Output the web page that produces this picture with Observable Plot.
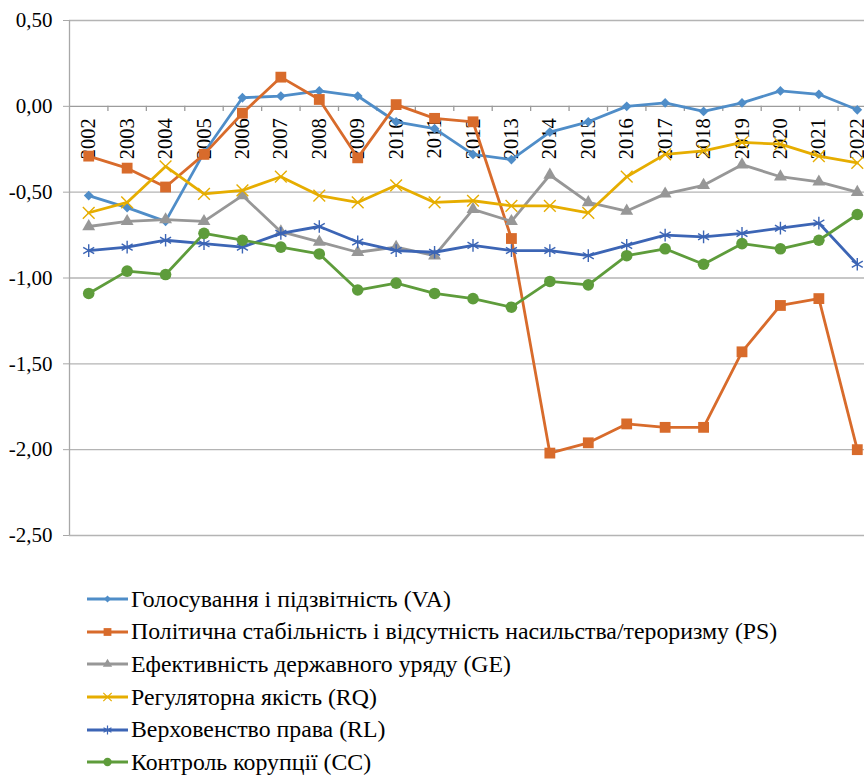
<!DOCTYPE html>
<html>
<head>
<meta charset="utf-8">
<script src="https://cdn.jsdelivr.net/npm/d3@7"></script>
<script src="https://cdn.jsdelivr.net/npm/@observablehq/plot@0.6"></script>
<style>
  html, body { margin: 0; padding: 0; background: #fff; }
  body { width: 864px; height: 783px; overflow: hidden; font-family: "Liberation Serif", serif; }
  #legend { padding-left: 87px; padding-top: 21px; }
  .item { display: flex; align-items: center; height: 32.6px; font-size: 23.8px; color: #000; font-family: "Liberation Serif", serif; white-space: nowrap; }
  .item svg { margin-right: 3px; flex: none; }
</style>
</head>
<body>
<div id="chart"></div>
<div id="legend"></div>
<script>
const years = [2002, 2003, 2004, 2005, 2006, 2007, 2008, 2009, 2010, 2011, 2012, 2013, 2014, 2015, 2016, 2017, 2018, 2019, 2020, 2021, 2022];
const yTicks = [0.5, 0, -0.5, -1, -1.5, -2, -2.5];

const va = [-0.52, -0.59, -0.67, -0.27, 0.05, 0.06, 0.09, 0.06, -0.09, -0.13, -0.28, -0.31, -0.15, -0.09, 0.00, 0.02, -0.03, 0.02, 0.09, 0.07, -0.02];
const ps = [-0.29, -0.36, -0.47, -0.28, -0.04, 0.17, 0.04, -0.30, 0.01, -0.07, -0.09, -0.77, -2.02, -1.96, -1.85, -1.87, -1.87, -1.43, -1.16, -1.12, -2.00];
const ge = [-0.70, -0.67, -0.66, -0.67, -0.52, -0.73, -0.79, -0.85, -0.82, -0.87, -0.60, -0.67, -0.40, -0.56, -0.61, -0.51, -0.46, -0.34, -0.41, -0.44, -0.50];
const rq = [-0.62, -0.56, -0.35, -0.51, -0.49, -0.41, -0.52, -0.56, -0.46, -0.56, -0.55, -0.58, -0.58, -0.62, -0.41, -0.28, -0.26, -0.21, -0.22, -0.29, -0.33];
const rl = [-0.84, -0.82, -0.78, -0.80, -0.82, -0.74, -0.70, -0.79, -0.84, -0.85, -0.81, -0.84, -0.84, -0.87, -0.81, -0.75, -0.76, -0.74, -0.71, -0.68, -0.92];
const cc = [-1.09, -0.96, -0.98, -0.74, -0.78, -0.82, -0.86, -1.07, -1.03, -1.09, -1.12, -1.17, -1.02, -1.04, -0.87, -0.83, -0.92, -0.80, -0.83, -0.78, -0.63];

const seriesNames = [
  "Голосування і підзвітність (VA)",
  "Політична стабільність і відсутність насильства/тероризму (PS)",
  "Ефективність державного уряду (GE)",
  "Регуляторна якість (RQ)",
  "Верховенство права (RL)",
  "Контроль корупції (CC)"
];
const seriesValues = [va, ps, ge, rq, rl, cc];
const seriesColors = ["#4f8dc8", "#d86b2b", "#979797", "#e6ad00", "#3c65b5", "#5e9c3b"];
const seriesSymbols = ["diamond2", "square", "triangle", "times", "asterisk", "circle"];
const symbolFilled = [true, true, true, false, false, true];
const symbolR = [4.4, 6.1, 4.8, 5.4, 6.0, 5.8];

const fmt = v => (v < 0 ? "-" : "") + Math.abs(v).toFixed(2).replace(".", ",");

const rows = [];
seriesNames.forEach((name, i) => {
  years.forEach((yr, j) => rows.push({key: i, name, year: yr, value: seriesValues[i][j]}));
});

const font = "'Liberation Serif', serif";
const H = 562;
const marks = [
  Plot.ruleY(yTicks.filter(v => v !== 0), {y: d => d, stroke: "#b4b4b4", strokeWidth: 1.3}),
  Plot.ruleY([0], {stroke: "#9c9c9c", strokeWidth: 1.3}),
  Plot.ruleX([years[0] - 0.5], {y1: d3.min(yTicks), y2: d3.max(yTicks), stroke: "#a8a8a8", strokeWidth: 1.3}),
  Plot.ruleX(years.map(y => y + 0.5), {x: d => d, y1: 0, y2: -0.03, stroke: "#9c9c9c", strokeWidth: 1.3}),
  Plot.axisY({ticks: yTicks, tickFormat: fmt, tickSize: 6, tickPadding: 11, fontSize: 21, fontFamily: font, stroke: "#a8a8a8", fill: "#000", label: null}),
  Plot.text(years, {x: d => d, y: 0, text: d => String(d), rotate: -90, textAnchor: "end", dy: 12, fontSize: 20.5, fontFamily: font, fill: "#000"})
];
seriesNames.forEach((name, i) => {
  const data = rows.filter(r => r.key === i);
  marks.push(Plot.line(data, {x: "year", y: "value", stroke: seriesColors[i], strokeWidth: 2.8, strokeLinejoin: "round", strokeLinecap: "round"}));
  if (symbolFilled[i]) {
    marks.push(Plot.dot(data, {x: "year", y: "value", symbol: seriesSymbols[i], r: symbolR[i], fill: seriesColors[i], stroke: "none"}));
  } else {
    marks.push(Plot.dot(data, {x: "year", y: "value", symbol: seriesSymbols[i], r: symbolR[i], fill: "none", stroke: seriesColors[i], strokeWidth: 1.4}));
  }
});

const chart = Plot.plot({
  width: 864,
  height: H,
  marginLeft: 69,
  marginRight: 0,
  marginTop: 20,
  marginBottom: H - 535,
  style: {fontFamily: font, background: "#fff", overflow: "hidden"},
  x: {type: "linear", domain: [years[0] - 0.5, years[years.length - 1] + 0.5], range: [69, 876], axis: null},
  y: {domain: [d3.min(yTicks), d3.max(yTicks)], axis: null},
  marks
});
document.getElementById("chart").appendChild(chart);

// Legend
const legend = d3.select("#legend");
seriesNames.forEach((name, i) => {
  const item = legend.append("div").attr("class", "item");
  const svg = item.append("svg").attr("width", 41).attr("height", 14);
  svg.append("line").attr("x1", 0).attr("x2", 41).attr("y1", 7).attr("y2", 7)
    .attr("stroke", seriesColors[i]).attr("stroke-width", 2.8);
  const symMap = {diamond2: d3.symbolDiamond2, square: d3.symbolSquare, triangle: d3.symbolTriangle, times: d3.symbolTimes, asterisk: d3.symbolAsterisk, circle: d3.symbolCircle};
  const r = symbolR[i] * 0.72;
  const p = svg.append("path").attr("transform", "translate(20.5,7)")
    .attr("d", d3.symbol(symMap[seriesSymbols[i]], Math.PI * r * r)());
  if (symbolFilled[i]) p.attr("fill", seriesColors[i]);
  else p.attr("fill", "none").attr("stroke", seriesColors[i]).attr("stroke-width", 1.2);
  item.append("span").text(name);
});
</script>
</body>
</html>
